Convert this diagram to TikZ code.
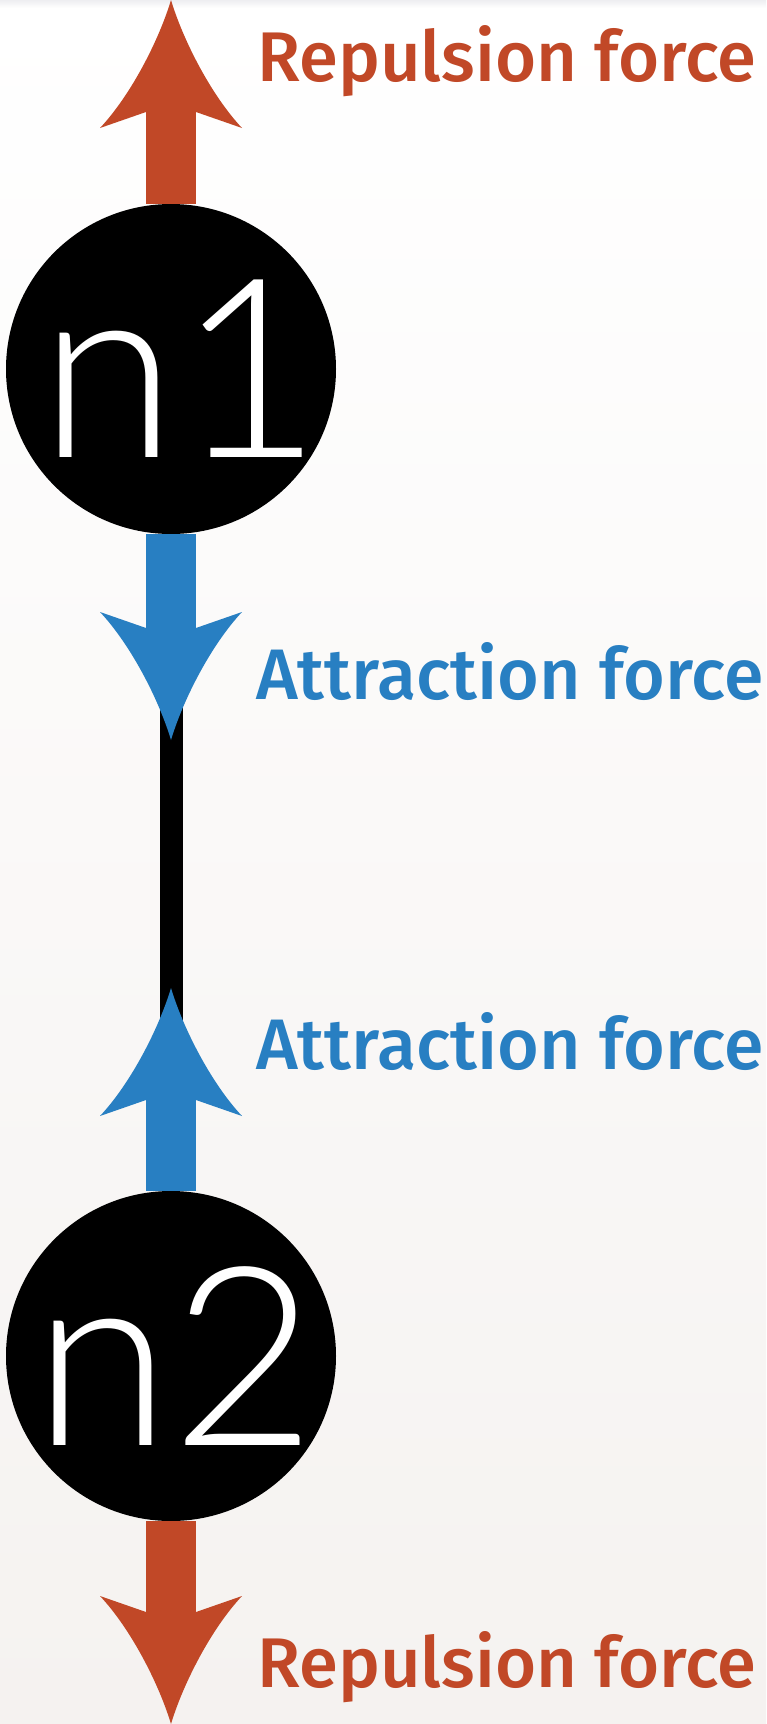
\documentclass[tikz,border=0pt]{standalone}
\usepackage{fontspec}
\newfontfamily\nodefont{Lato Light}
\newfontfamily\lblfont{Fira Sans Medium}
\usetikzlibrary{calc}
\definecolor{redC}{RGB}{193,72,39}
\definecolor{blueC}{RGB}{40,127,194}
\definecolor{bgbot}{RGB}{245,242,240}
\definecolor{bgband}{RGB}{238,238,241}
\tikzset{
  forcehead/.pic={\fill[pic actions] (0,0) .. controls (-12,40) and (-40,95) .. (-71,128) -- (-25,112) -- (25,112) -- (71,128) .. controls (40,95) and (12,40) .. (0,0) -- cycle;},
  shaft/.style={line width=50pt},
  vertex/.style={circle, fill=black, minimum size=330pt, inner sep=0pt, text=white, font=\nodefont\fontsize{250}{250}\selectfont},
  lbl/.style={anchor=base west, inner sep=0pt, font=\lblfont},
  edgeline/.style={line width=23pt, black}
}
\begin{document}
\begin{tikzpicture}[x=1pt,y=-1pt]
\shade[top color=white, bottom color=bgbot] (0,0) rectangle (766,1724);
\shade[top color=bgband, bottom color=white] (0,0) rectangle (766,8);
\useasboundingbox (0,0) rectangle (766,1724);
% nodes
\node[vertex] (n1) at (171,369) {\makebox[0pt]{\hspace*{20pt}n1}};
\node[vertex] (n2) at (171,1356) {\makebox[0pt]{\hspace*{8pt}n2}};
% free ends
\coordinate (t1) at (171,0);
\coordinate (j1) at (171,108);
\coordinate (t2) at (171,740);
\coordinate (j2) at (171,632);
\coordinate (t3) at (171,988);
\coordinate (j3) at (171,1096);
\coordinate (t4) at (171,1724);
\coordinate (j4) at (171,1616);
% edge
\draw[edgeline] (n1) -- (n2);
% repulsion (top)
\draw[shaft, redC] (n1.north) -- (j1);
\pic[fill=redC] at (t1) {forcehead};
% attraction n1
\draw[shaft, blueC] (n1.south) -- (j2);
\pic[fill=blueC, yscale=-1] at (t2) {forcehead};
% attraction n2
\draw[shaft, blueC] (n2.north) -- (j3);
\pic[fill=blueC] at (t3) {forcehead};
% repulsion (bottom)
\draw[shaft, redC] (n2.south) -- (j4);
\pic[fill=redC, yscale=-1] at (t4) {forcehead};
% labels
\node[lbl, text=redC] (r1) at (257,81) {\resizebox{499pt}{56pt}{Repulsion force}};
\node[lbl, text=blueC] (a1) at (256,699) {\resizebox{507pt}{57pt}{Attraction force}};
\node[lbl, text=blueC] (a2) at (256,1069) {\resizebox{507pt}{57pt}{Attraction force}};
\node[lbl, text=redC] (r2) at (257,1687) {\resizebox{499pt}{56pt}{Repulsion force}};
\end{tikzpicture}
\end{document}
